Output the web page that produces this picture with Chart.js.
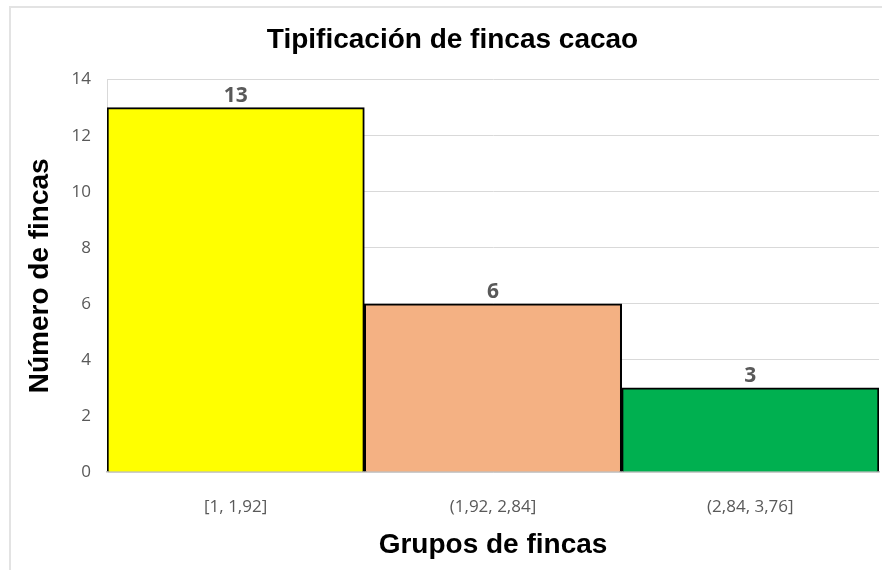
<!DOCTYPE html>
<html lang="es">
<head>
<meta charset="utf-8">
<title>Tipificación de fincas cacao</title>
<script src="https://cdn.jsdelivr.net/npm/chart.js@4.4.1/dist/chart.umd.min.js"></script>
<style>
    html, body { margin: 0; padding: 0; background: #fff; overflow: hidden; }
    #wrap { position: relative; width: 882px; height: 570px; }
    #marco {
        position: absolute; left: 9px; top: 6px; width: 900px; height: 600px;
        border-top: 2px solid #e3e3e3; border-left: 2px solid #e3e3e3;
        pointer-events: none;
    }
</style>
</head>
<body>
<div id="wrap">
    <canvas id="chartFincas" width="882" height="570"></canvas>
    <div id="marco"></div>
</div>
<script>
// ================= DATOS =================
const grupos = ["[1, 1,92]", "(1,92, 2,84]", "(2,84, 3,76]"];
const numeroFincas = [13, 6, 3];
const coloresGrupo = ["#FFFF00", "#F4B183", "#00B050"];
const ticksY = [0, 2, 4, 6, 8, 10, 12, 14];

const FUENTE_TITULO = "'Liberation Sans', Arial, sans-serif";
const FUENTE_TEXTO = "'Open Sans', 'Noto Sans', sans-serif";

/* ===== ETIQUETAS SOBRE LAS BARRAS ===== */
const etiquetasBarras = {
    id: "etiquetasBarras",
    afterDatasetsDraw(chart) {
        const ctx = chart.ctx;
        const meta = chart.getDatasetMeta(0);
        ctx.save();
        ctx.font = "bold 21px " + FUENTE_TEXTO;
        ctx.fillStyle = "#595959";
        ctx.textAlign = "center";
        ctx.textBaseline = "bottom";
        meta.data.forEach((barra, i) => {
            ctx.fillText(numeroFincas[i], barra.x, barra.y - 1);
        });
        ctx.restore();
    }
};

/* ===== GRÁFICO ===== */
Chart.defaults.font.family = FUENTE_TEXTO;

new Chart(document.getElementById("chartFincas"), {
    type: "bar",
    data: {
        labels: grupos,
        datasets: [{
            data: numeroFincas,
            backgroundColor: coloresGrupo,
            borderColor: "#000000",
            borderWidth: 2,
            barPercentage: 1,
            categoryPercentage: 1
        }]
    },
    options: {
        responsive: false,
        animation: false,
        layout: { padding: { left: 26, right: 3, top: 0, bottom: 0 } },
        plugins: {
            legend: { display: false },
            tooltip: { enabled: false },
            title: {
                display: true,
                text: "Tipificación de fincas cacao",
                color: "#000000",
                font: { family: FUENTE_TITULO, size: 28, weight: "bold" },
                padding: { top: 23, bottom: 23 }
            }
        },
        scales: {
            x: {
                grid: { display: false },
                border: { display: true, color: "#bfbfbf", width: 1.5 },
                ticks: {
                    color: "#595959",
                    font: { size: 17 },
                    padding: 17,
                    maxRotation: 0
                },
                title: {
                    display: true,
                    text: "Grupos de fincas",
                    color: "#000000",
                    font: { family: FUENTE_TITULO, size: 28, weight: "bold" },
                    padding: { top: 0, bottom: 8 }
                },
                afterFit(scale) { scale.height = 98; }
            },
            y: {
                min: 0,
                max: 14,
                afterBuildTicks(scale) {
                    scale.ticks = ticksY.map(v => ({ value: v }));
                },
                grid: { color: "#d9d9d9", lineWidth: 1, drawTicks: false },
                border: { display: true, color: "#d9d9d9" },
                ticks: {
                    color: "#595959",
                    font: { size: 17 },
                    padding: 16
                },
                title: {
                    display: true,
                    text: "Número de fincas",
                    color: "#000000",
                    font: { family: FUENTE_TITULO, size: 28, weight: "bold", lineHeight: 1 },
                    padding: { top: 0, bottom: 0 }
                },
                afterFit(scale) { scale.width = 81; }
            }
        }
    },
    plugins: [etiquetasBarras]
});
</script>
</body>
</html>
